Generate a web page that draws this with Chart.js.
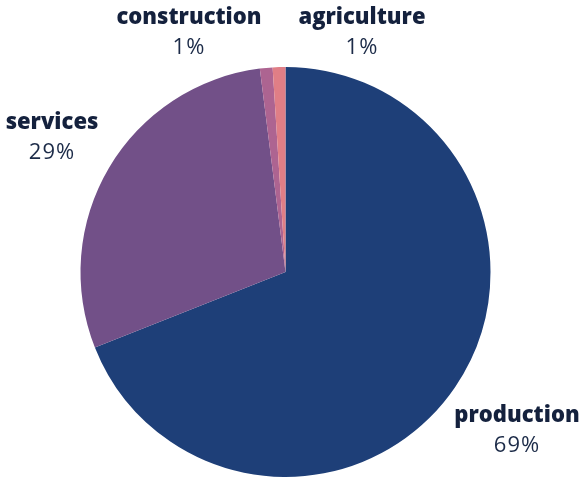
<!DOCTYPE html>
<html>
<head>
<meta charset="utf-8">
<script src="https://cdn.jsdelivr.net/npm/chart.js@4"></script>
<style>
html,body{margin:0;padding:0;background:#fff;}
#wrap{width:581px;height:477px;position:relative;}
</style>
</head>
<body>
<div id="wrap"><canvas id="c" width="581" height="477"></canvas></div>
<script>
const categories = ["production", "services", "construction", "agriculture"];
const shares = [69, 29, 1, 1];
const percentLabels = ["69%", "29%", "1%", "1%"];
const colors = ["#1e3f78", "#725088", "#ad6491", "#e07e86"];

// label anchor positions (text centres)
const labelAnchors = [
  {x: 517, y: 416},
  {x: 52, y: 123},
  {x: 189, y: 18},
  {x: 362, y: 18}
];

const labelPlugin = {
  id: 'outLabels',
  afterDraw(chart) {
    const ctx = chart.ctx;
    ctx.save();
    ctx.textAlign = 'center';
    ctx.textBaseline = 'middle';
    labelAnchors.forEach((p, i) => {
      ctx.fillStyle = '#14213d';
      ctx.font = '800 22px "Open Sans"';
      ctx.letterSpacing = '0px';
      ctx.fillText(categories[i], p.x, p.y);
      ctx.fillStyle = '#1c2b48';
      ctx.font = '22px "Open Sans"';
      ctx.letterSpacing = '1px';
      ctx.fillText(percentLabels[i], p.x, p.y + 30);
    });
    ctx.restore();
  }
};

new Chart(document.getElementById('c'), {
  type: 'pie',
  data: {
    labels: categories,
    datasets: [{
      data: shares,
      backgroundColor: colors,
      borderWidth: 0
    }]
  },
  options: {
    responsive: false,
    animation: false,
    layout: {padding: {top: 67, bottom: 0, left: 80, right: 90}},
    plugins: {
      legend: {display: false},
      tooltip: {enabled: false}
    }
  },
  plugins: [labelPlugin]
});
</script>
</body>
</html>
